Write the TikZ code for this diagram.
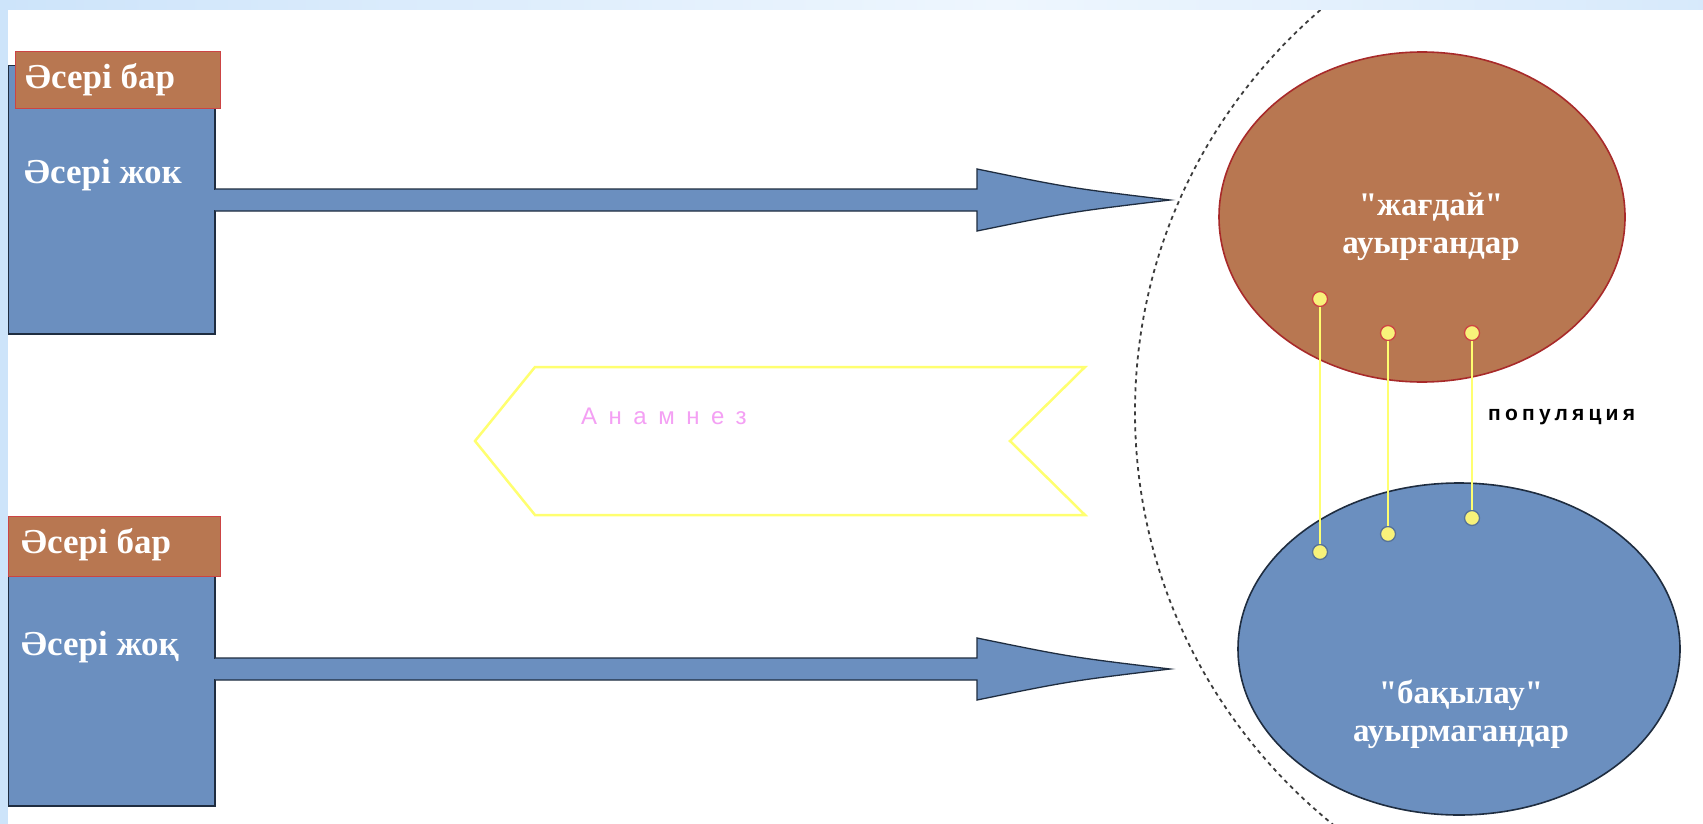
\documentclass[tikz,border=0pt]{standalone}
\usepackage{fontspec}
\setmainfont{Liberation Serif}
\newfontfamily\boxfont{Liberation Serif}
\newfontfamily\spsans[LetterSpace=48]{Liberation Sans}
\newfontfamily\popfont[LetterSpace=20]{Liberation Sans}
\usetikzlibrary{shapes.geometric}
\definecolor{bluefill}{HTML}{6B8FBF}
\definecolor{brownfill}{HTML}{B87751}
\definecolor{darkedge}{HTML}{1F2D40}
\definecolor{redline}{HTML}{CC4444}
\definecolor{ellred}{HTML}{A82A2A}
\definecolor{yellowline}{HTML}{FFFF70}
\definecolor{dotfill}{HTML}{F8F27A}
\definecolor{pinktext}{HTML}{F4A0F4}
\definecolor{stripA}{HTML}{CDE4FA}
\definecolor{stripB}{HTML}{EEF6FE}
\definecolor{dashgray}{HTML}{3C3C3C}
\begin{document}
\begin{tikzpicture}[x=1pt,y=-1pt,
  bluebox/.style={fill=bluefill, draw=darkedge, line width=1pt, inner sep=0pt, anchor=north west},
  brownlabel/.style={fill=brownfill, draw=redline, line width=1.2pt, inner sep=0pt, anchor=north west},
  whitetxt/.style={text=white, font=\boxfont\bfseries\fontsize{35}{38}\selectfont, inner sep=0pt},
  blockarrow/.style={fill=bluefill, draw=darkedge, line width=1.3pt, line join=miter},
  dotstyle/.style={circle, fill=dotfill, line width=1.3pt, minimum size=15pt, inner sep=0pt},
  yline/.style={draw=yellowline, line width=2pt},
  popellipse/.style={ellipse, inner sep=0pt, line width=1.6pt}]
\useasboundingbox (0,0) rectangle (1703,824);
\fill[white] (0,0) rectangle (1703,824);

% big dashed population circle
\begin{scope}
\clip (0,10) rectangle (1703,824);
\draw[dashgray, line width=1.8pt, dash pattern=on 4pt off 4pt] (1680,412) circle [x radius=545pt, y radius=535pt];
\end{scope}

% frame strips
\shade[left color=stripA, right color=stripB] (0,0) rectangle (1000,10);
\shade[left color=stripB, right color=stripA!80!white] (1000,0) rectangle (1703,10);
\fill[stripA] (0,0) rectangle (8,824);

% Anamnez banner
\draw[yellowline, line width=2.5pt, fill=white, line join=miter]
  (475,441) -- (535,367) -- (1085,367) -- (1010,441) -- (1085,515) -- (535,515) -- cycle;
\node[text=pinktext, font=\spsans\fontsize{24}{27}\selectfont, anchor=west, inner sep=0pt] (anam) at (581,416) {Анамнез};

% left boxes
\node[bluebox, minimum width=206pt, minimum height=268pt] (boxA) at (8,65) {};
\node[bluebox, minimum width=206pt, minimum height=233pt] (boxB) at (8,572) {};
\draw[darkedge, line width=2.5pt] (boxA.north east) -- (boxA.south east) -- (boxA.south west);
\draw[darkedge, line width=2.5pt] (boxB.north east) -- (boxB.south east) -- (boxB.south west);

% arrows
\coordinate (tipA) at (1170,200);
\coordinate (tipB) at (1170,669);
\filldraw[blockarrow] (boxA.east |- 0,189) -- (977,189) -- (977,169)
  .. controls (1070,188) .. (tipA) .. controls (1070,212) .. (977,231) -- (977,211) -- (boxA.east |- 0,211);
\filldraw[blockarrow] (boxB.east |- 0,658) -- (977,658) -- (977,638)
  .. controls (1070,657) .. (tipB) .. controls (1070,681) .. (977,700) -- (977,680) -- (boxB.east |- 0,680);
\fill[bluefill] ([xshift=-3pt]boxA.east |- 0,190) rectangle ([xshift=2pt]boxA.east |- 0,210);
\fill[bluefill] ([xshift=-3pt]boxB.east |- 0,659) rectangle ([xshift=2pt]boxB.east |- 0,679);

% brown labels
\node[brownlabel, minimum width=205pt, minimum height=57pt] (labA) at (15,51) {};
\node[brownlabel, minimum width=212pt, minimum height=60pt] (labB) at (8,516) {};
\node[whitetxt, anchor=base west] (labAt) at (25,89) {Әсері бар};
\node[whitetxt, anchor=base west] (labBt) at (21,553) {Әсері бар};
\node[whitetxt, anchor=base west] (boxAt) at (24,183) {Әсері жок};
\node[whitetxt, anchor=base west] (boxBt) at (21,655) {Әсері жоқ};

% ellipses
\node[popellipse, fill=brownfill, draw=ellred, minimum width=406pt, minimum height=330pt] (ellA) at (1422,217) {};
\node[popellipse, fill=bluefill, draw=darkedge, minimum width=442pt, minimum height=332pt] (ellB) at (1459,649) {};
\node[whitetxt, align=center, font=\boxfont\bfseries\fontsize{33}{38}\selectfont] (ellAt) at (1431,227) {"жағдай"\\ауырғандар};
\node[whitetxt, align=center, font=\boxfont\bfseries\fontsize{33}{38}\selectfont] (ellBt) at (1461,714) {"бақылау"\\ауырмагандар};

% connecting dots and lines
\node[dotstyle, draw=redline] (a1) at (1320,299) {};
\node[dotstyle, draw=redline] (a2) at (1388,333) {};
\node[dotstyle, draw=redline] (a3) at (1472,333) {};
\node[dotstyle, draw=bluefill!80!black] (b1) at (1320,552) {};
\node[dotstyle, draw=bluefill!80!black] (b2) at (1388,534) {};
\node[dotstyle, draw=bluefill!80!black] (b3) at (1472,518) {};
\draw[yline] (a1.south) -- (b1.north);
\draw[yline] (a2.south) -- (b2.north);
\draw[yline] (a3.south) -- (b3.north);

\node[font=\popfont\bfseries\fontsize{21}{24}\selectfont, anchor=west, inner sep=0pt] (pop) at (1488,417) {популяция};
\end{tikzpicture}
\end{document}
